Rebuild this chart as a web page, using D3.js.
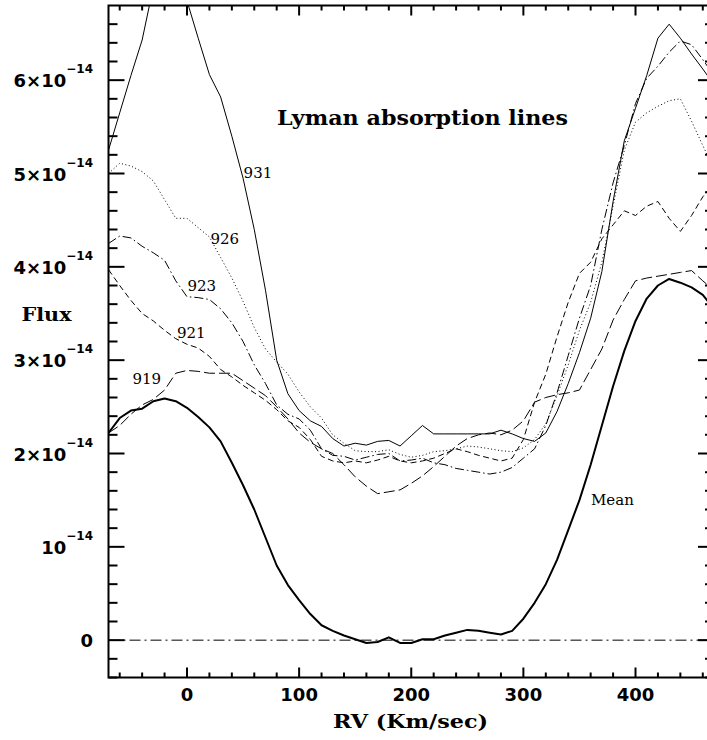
<!DOCTYPE html>
<html lang="en">
<head>
<meta charset="utf-8">
<title>Lyman absorption lines</title>
<script src="https://cdn.jsdelivr.net/npm/d3@7"></script>
<style>
    body { margin: 0; background: #fff; }
    .tick-label { font-family: "DejaVu Sans", sans-serif; font-weight: bold; font-size: 18px; }
    .sup { font-size: 12px; }
    .big-label { font-family: "DejaVu Serif", serif; font-weight: bold; }
    .line-label { font-family: "DejaVu Serif", serif; font-size: 15px; }
</style>
</head>
<body>
<div id="chart"></div>
<script>
// radial velocity grid (km/s)
var rv = [-70, -60, -50, -40, -30, -20, -10, 0, 10, 20, 30, 40, 50, 60, 70, 80, 90, 100,
    110, 120, 130, 140, 150, 160, 170, 180, 190, 200, 210, 220, 230, 240, 250, 260, 270, 280,
    290, 300, 310, 320, 330, 340, 350, 360, 370, 380, 390, 400, 410, 420, 430, 440, 450, 460, 470];

// flux in units of 1e-14
var flux931 = [5.25, 5.65, 6.05, 6.43, 7.00, 7.35, 7.25, 6.85, 6.45, 6.06, 5.82, 5.40, 4.95, 4.40, 3.75, 3.00, 2.64, 2.46,
    2.35, 2.29, 2.16, 2.08, 2.11, 2.09, 2.13, 2.14, 2.08, 2.19, 2.30, 2.21, 2.21, 2.21, 2.21, 2.21, 2.21, 2.25,
    2.21, 2.16, 2.13, 2.22, 2.45, 2.75, 3.08, 3.45, 3.95, 4.70, 5.35, 5.70, 6.05, 6.45, 6.60, 6.45, 6.28, 6.12, 5.95];
var flux926 = [5.00, 5.11, 5.08, 5.02, 4.92, 4.72, 4.52, 4.52, 4.42, 4.32, 4.10, 3.88, 3.63, 3.35, 3.12, 2.98, 2.85, 2.66,
    2.50, 2.38, 2.20, 2.11, 2.03, 2.02, 2.02, 2.04, 1.99, 1.96, 1.98, 2.02, 2.03, 2.05, 2.08, 2.07, 2.05, 2.03,
    2.02, 2.06, 2.15, 2.32, 2.62, 2.95, 3.32, 3.62, 4.05, 4.65, 5.25, 5.55, 5.65, 5.72, 5.78, 5.80, 5.56, 5.30, 5.05];
var flux923 = [4.25, 4.33, 4.31, 4.22, 4.15, 4.07, 3.85, 3.68, 3.67, 3.65, 3.55, 3.40, 3.20, 2.95, 2.75, 2.52, 2.42, 2.37,
    2.25, 2.05, 1.98, 1.97, 1.93, 1.96, 1.99, 2.00, 1.92, 1.93, 1.95, 1.90, 1.88, 1.84, 1.82, 1.80, 1.78, 1.80,
    1.85, 1.95, 2.05, 2.30, 2.65, 3.05, 3.45, 3.80, 4.40, 4.90, 5.30, 5.75, 6.02, 6.15, 6.30, 6.42, 6.38, 6.22, 6.05];
var flux921 = [3.97, 3.80, 3.64, 3.50, 3.42, 3.32, 3.23, 3.17, 3.13, 3.04, 2.90, 2.82, 2.73, 2.65, 2.57, 2.47, 2.35, 2.28,
    2.15, 1.97, 1.92, 1.90, 1.92, 1.90, 1.93, 1.97, 1.92, 1.90, 1.92, 1.95, 2.00, 2.05, 2.02, 1.98, 1.95, 1.92,
    1.95, 2.15, 2.55, 2.85, 3.25, 3.62, 3.93, 4.05, 4.30, 4.45, 4.60, 4.55, 4.65, 4.70, 4.52, 4.38, 4.55, 4.75, 4.90];
var flux919 = [2.22, 2.30, 2.42, 2.52, 2.58, 2.68, 2.86, 2.89, 2.88, 2.86, 2.86, 2.86, 2.78, 2.70, 2.62, 2.50, 2.37, 2.22,
    2.12, 2.05, 2.00, 1.88, 1.75, 1.65, 1.57, 1.59, 1.61, 1.68, 1.76, 1.86, 1.97, 2.08, 2.16, 2.20, 2.22, 2.20,
    2.25, 2.35, 2.55, 2.60, 2.63, 2.65, 2.68, 2.90, 3.12, 3.43, 3.65, 3.85, 3.88, 3.90, 3.92, 3.94, 3.96, 3.85, 3.75];
var fluxMean = [2.22, 2.38, 2.46, 2.48, 2.56, 2.59, 2.56, 2.49, 2.39, 2.28, 2.13, 1.90, 1.66, 1.40, 1.10, 0.80, 0.59, 0.43,
    0.28, 0.16, 0.10, 0.05, 0.01, -0.03, -0.02, 0.03, -0.03, -0.03, 0.01, 0.01, 0.05, 0.08, 0.11, 0.10, 0.08, 0.06,
    0.10, 0.23, 0.40, 0.60, 0.86, 1.18, 1.50, 1.88, 2.30, 2.72, 3.10, 3.42, 3.66, 3.80, 3.87, 3.83, 3.78, 3.70, 3.55];

var rvTicks = [0, 100, 200, 300, 400];
var fluxTicks = [0, 1, 2, 3, 4, 5, 6];
var fluxTickLabels = ["0", "10", "2\u00d710", "3\u00d710", "4\u00d710", "5\u00d710", "6\u00d710"];

var width = 707, height = 740;
var plot = { left: 108.5, right: 714, top: 5.5, bottom: 677.5 };

var x = d3.scaleLinear().domain([-70, 470]).range([plot.left, plot.right]);
var y = d3.scaleLinear().domain([-0.4, 6.8]).range([plot.bottom, plot.top]);

var svg = d3.select("#chart")
    .append("svg")
    .attr("width", width)
    .attr("height", height);

svg.append("clipPath")
    .attr("id", "clip")
    .append("rect")
    .attr("x", plot.left)
    .attr("y", plot.top)
    .attr("width", plot.right - plot.left)
    .attr("height", plot.bottom - plot.top);

//series: label, values, dash pattern, width, label anchor (rv, flux)
var series = [
    { name: "931", values: flux931, dash: null, w: 1, at: [50.5, 4.95] },
    { name: "926", values: flux926, dash: "1,2.5", w: 1, at: [21, 4.245] },
    { name: "923", values: flux923, dash: "9,3,1.5,3", w: 1, at: [0.4, 3.74] },
    { name: "921", values: flux921, dash: "6,3.5", w: 1, at: [-9, 3.24] },
    { name: "919", values: flux919, dash: "11,4", w: 1, at: [-48.7, 2.745] },
    { name: "Mean", values: fluxMean, dash: null, w: 2, at: [360.3, 1.45] }
];

var line = d3.line()
    .x(function (d) { return x(d[0]); })
    .y(function (d) { return y(d[1]); });

var lines = svg.append("g").attr("clip-path", "url(#clip)");

// zero level
lines.append("line")
    .attr("x1", plot.left).attr("x2", plot.right)
    .attr("y1", y(0)).attr("y2", y(0))
    .attr("stroke", "black")
    .attr("stroke-width", 1)
    .attr("stroke-dasharray", "11,4,2,4");

lines.selectAll("path.series")
    .data(series)
    .enter()
    .append("path")
    .attr("class", "series")
    .attr("fill", "none")
    .attr("stroke", "black")
    .attr("stroke-width", function (d) { return d.w; })
    .attr("stroke-linejoin", "round")
    .attr("stroke-dasharray", function (d) { return d.dash; })
    .attr("d", function (d) {
        return line(d.values.map(function (v, i) { return [rv[i], v]; }));
    });

svg.selectAll("text.line-label")
    .data(series)
    .enter()
    .append("text")
    .attr("class", "line-label")
    .attr("x", function (d) { return x(d.at[0]); })
    .attr("y", function (d) { return y(d.at[1]); })
    .text(function (d) { return d.name; });

//frame and ticks
var axes = svg.append("g").attr("stroke", "black").attr("stroke-width", 2);

axes.append("rect")
    .attr("x", plot.left).attr("y", plot.top)
    .attr("width", plot.right - plot.left)
    .attr("height", plot.bottom - plot.top)
    .attr("fill", "none");

var xMinor = d3.range(-60, 470, 20).filter(function (v) { return rvTicks.indexOf(v) < 0; });
var yMinor = d3.range(-2, 34).map(function (i) { return i / 5; })
    .filter(function (v) { return v % 1 !== 0; });

function xTick(v, len) {
    axes.append("line").attr("x1", x(v)).attr("x2", x(v))
        .attr("y1", plot.bottom).attr("y2", plot.bottom - len);
    axes.append("line").attr("x1", x(v)).attr("x2", x(v))
        .attr("y1", plot.top).attr("y2", plot.top + len);
}
function yTick(v, len) {
    axes.append("line").attr("y1", y(v)).attr("y2", y(v))
        .attr("x1", plot.left).attr("x2", plot.left + len);
    axes.append("line").attr("y1", y(v)).attr("y2", y(v))
        .attr("x1", plot.right).attr("x2", plot.right - len);
}
xMinor.forEach(function (v) { xTick(v, 5); });
rvTicks.forEach(function (v) { xTick(v, 10); });
yMinor.forEach(function (v) { yTick(v, 9); });
fluxTicks.forEach(function (v) { yTick(v, 16); });

svg.selectAll("text.xlab")
    .data(rvTicks)
    .enter()
    .append("text")
    .attr("class", "tick-label")
    .attr("text-anchor", "middle")
    .attr("x", function (d) { return x(d); })
    .attr("y", plot.bottom + 23)
    .text(function (d) { return d; });

var ylab = svg.selectAll("text.ylab")
    .data(fluxTicks)
    .enter()
    .append("text")
    .attr("class", "tick-label")
    .attr("text-anchor", "end")
    .attr("x", 93)
    .attr("y", function (d) { return y(d) + 7; });
ylab.append("tspan").text(function (d, i) { return fluxTickLabels[i]; });
ylab.filter(function (d) { return d !== 0; })
    .append("tspan")
    .attr("class", "sup")
    .attr("dy", -14)
    .text("\u221214");

svg.append("text")
    .attr("class", "big-label")
    .attr("x", 277)
    .attr("y", 125)
    .attr("font-size", 20)
    .attr("textLength", 291)
    .attr("lengthAdjust", "spacingAndGlyphs")
    .text("Lyman absorption lines");

svg.append("text")
    .attr("class", "big-label")
    .attr("x", 21.5)
    .attr("y", 320.5)
    .attr("font-size", 19)
    .attr("textLength", 50)
    .attr("lengthAdjust", "spacingAndGlyphs")
    .text("Flux");

svg.append("text")
    .attr("class", "big-label")
    .attr("x", 333)
    .attr("y", 728)
    .attr("font-size", 19)
    .attr("textLength", 155)
    .attr("lengthAdjust", "spacingAndGlyphs")
    .text("RV (Km/sec)");
</script>
</body>
</html>
